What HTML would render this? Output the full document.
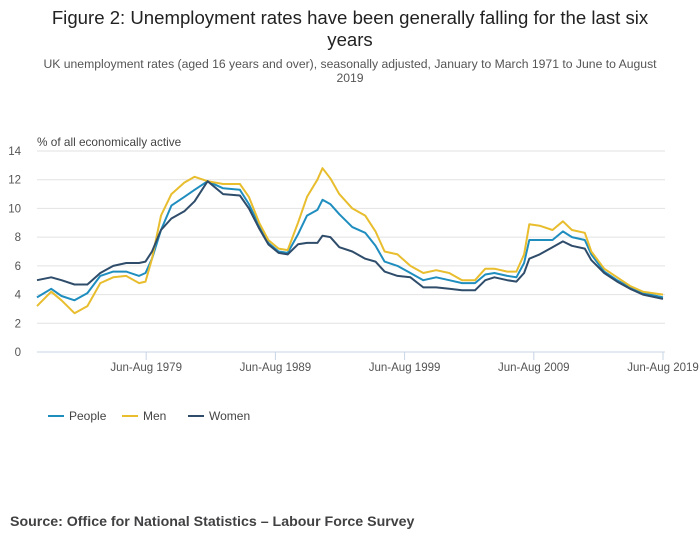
<!DOCTYPE html>
<html><head><meta charset="utf-8"><style>
body{margin:0;background:#fff;font-family:"Liberation Sans",sans-serif;}
#wrap{position:relative;width:700px;height:549px;overflow:hidden}
</style></head><body>
<div id="wrap">
<svg id="chart" width="700" height="549" xmlns="http://www.w3.org/2000/svg">
<text x="350" y="24" text-anchor="middle" font-size="18.6" fill="#222">Figure 2: Unemployment rates have been generally falling for the last six</text>
<text x="350" y="46" text-anchor="middle" font-size="18.6" fill="#222">years</text>
<text x="350" y="68" text-anchor="middle" font-size="12.2" fill="#555">UK unemployment rates (aged 16 years and over), seasonally adjusted, January to March 1971 to June to August</text>
<text x="350" y="82" text-anchor="middle" font-size="12.2" fill="#555">2019</text>
<text x="37" y="146" font-size="11.8" fill="#444">% of all economically active</text>
<g id="grid"></g><g id="xaxis"></g><g id="lines"></g><g id="legend"></g>
<text x="10" y="526" font-size="14.2" font-weight="bold" fill="#414042">Source: Office for National Statistics – Labour Force Survey</text>
</svg>
</div>
<script>
const dates=[1971.1,1972.2,1973,1974,1975,1976,1977,1978,1979,1979.5,1980,1980.7,1981.5,1982.5,1983.3,1984.3,1985.5,1986.8,1987.5,1988.3,1989,1989.8,1990.5,1991.3,1992,1992.8,1993.2,1993.8,1994.5,1995.5,1996.5,1997.3,1998,1999,2000,2001,2002,2003,2004,2005,2005.8,2006.5,2007.5,2008.2,2008.8,2009.2,2010,2011,2011.8,2012.5,2013.5,2014,2015,2016,2017,2018,2019.55];
const people=[3.8,4.4,3.9,3.6,4.1,5.3,5.6,5.6,5.3,5.5,6.5,8.5,10.2,10.8,11.3,11.9,11.4,11.3,10.3,8.8,7.6,7.0,6.9,8.2,9.5,9.9,10.6,10.3,9.6,8.7,8.3,7.4,6.3,6.0,5.5,5.0,5.2,5.0,4.8,4.8,5.4,5.5,5.3,5.2,6.2,7.8,7.8,7.8,8.4,8.0,7.8,6.8,5.6,5.0,4.5,4.1,3.8];
const men=[3.2,4.2,3.6,2.7,3.2,4.8,5.2,5.3,4.8,4.9,6.5,9.5,11.0,11.8,12.2,11.9,11.7,11.7,10.8,9.0,7.8,7.2,7.1,9.0,10.8,12.0,12.8,12.1,11.0,10.0,9.5,8.4,7.0,6.8,6.0,5.5,5.7,5.5,5.0,5.0,5.8,5.8,5.6,5.6,6.8,8.9,8.8,8.5,9.1,8.5,8.3,7.0,5.8,5.2,4.6,4.2,4.0];
const women=[5.0,5.2,5.0,4.7,4.7,5.5,6.0,6.2,6.2,6.3,7.0,8.5,9.3,9.8,10.5,11.9,11.0,10.9,10.0,8.6,7.5,6.9,6.8,7.5,7.6,7.6,8.1,8.0,7.3,7.0,6.5,6.3,5.6,5.3,5.2,4.5,4.5,4.4,4.3,4.3,5.0,5.2,5.0,4.9,5.5,6.5,6.8,7.3,7.7,7.4,7.2,6.4,5.5,4.9,4.4,4.0,3.7];
const yTicks=[0,2,4,6,8,10,12,14];
const xTickYears=[1979.55,1989.55,1999.55,2009.55,2019.55];
const xTickLabels=["Jun-Aug 1979","Jun-Aug 1989","Jun-Aug 1999","Jun-Aug 2009","Jun-Aug 2019"];
const seriesNames=["People","Men","Women"];
const seriesColors=["#1f8ebf","#e8bd2e","#2f4d6b"];

const NS="http://www.w3.org/2000/svg";
const X0=37,X1=663,Y0=352,Y1=151;
function xs(d){return X0+(d-1971.1)/(2019.55-1971.1)*(X1-X0);}
function ys(v){return Y0-(v/14)*(Y0-Y1);}
function mk(tag,attrs,parent){const e=document.createElementNS(NS,tag);for(const k in attrs)e.setAttribute(k,attrs[k]);parent.appendChild(e);return e;}
const grid=document.getElementById('grid');
yTicks.forEach(t=>{
  const l=mk('line',{x1:X0,x2:X1+2,y1:ys(t),y2:ys(t),stroke:t===0?'#c8d4e6':'#e2e2e2','stroke-width':1},grid);
  
  
  const tx=mk('text',{x:21,y:ys(t)+4,'text-anchor':'end','font-size':11.5,fill:'#555'},grid);
  tx.textContent=t;
  
  
});
const xa=document.getElementById('xaxis');
xTickYears.forEach((d,i)=>{
  const l=mk('line',{x1:xs(d),x2:xs(d),y1:Y0,y2:Y0+8,stroke:'#c8d4e6'},xa);
  
  
  const tx=mk('text',{x:xs(d),y:Y0+19,'text-anchor':'middle','font-size':11.5,fill:'#555'},xa);
  tx.textContent=xTickLabels[i];
  
  
});
const lines=document.getElementById('lines');
[people,men,women].forEach((s,i)=>{
  const d=s.map((v,j)=>(j?'L':'M')+xs(dates[j]).toFixed(1)+','+ys(v).toFixed(1)).join('');
  const p=mk('path',{d:d,fill:'none',stroke:seriesColors[i],'stroke-width':2,'stroke-linejoin':'round'},lines);
  
  
});
const lg=document.getElementById('legend');
const lx=[48,122,188];
seriesNames.forEach((n,i)=>{
  const g=mk('g',{},lg);
  
  
  mk('line',{x1:lx[i],x2:lx[i]+16,y1:416,y2:416,stroke:seriesColors[i],'stroke-width':2},g);
  const t=mk('text',{x:lx[i]+21,y:420,'font-size':12,fill:'#444'},g);
  t.textContent=n;
});
</script>
</body></html>
